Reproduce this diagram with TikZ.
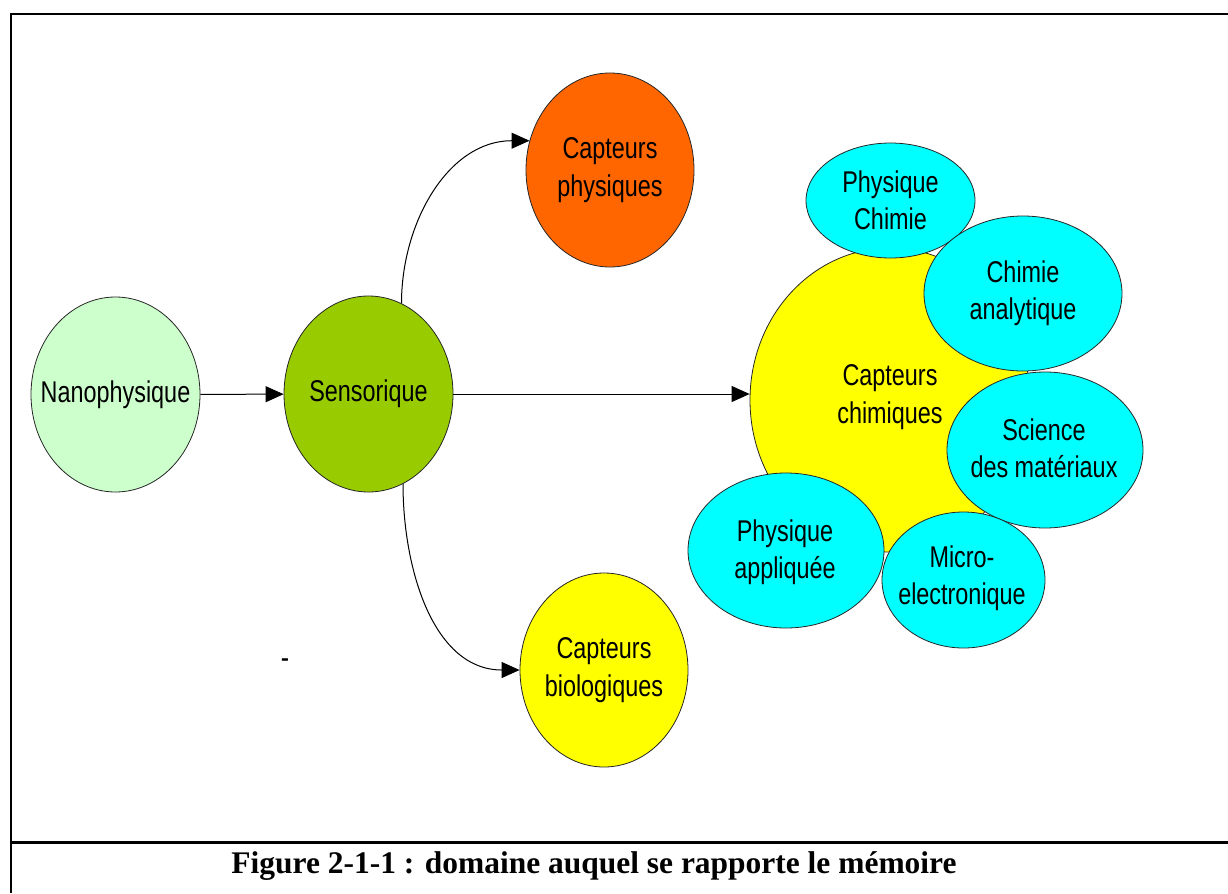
\documentclass[tikz,border=0pt]{standalone}
\usepackage{fontspec}
\setmainfont{Liberation Sans}[FakeStretch=0.78]
\newfontfamily\captionserif{Liberation Serif}
\usetikzlibrary{shapes.geometric,arrows.meta}

\definecolor{nanogreen}{HTML}{CCFFCC}
\definecolor{sensogreen}{HTML}{99CC00}
\definecolor{physorange}{HTML}{FF6600}
\definecolor{sensoryellow}{HTML}{FFFF00}
\definecolor{fieldcyan}{HTML}{00FFFF}

\begin{document}
\begin{tikzpicture}[x=0.75pt,y=-0.75pt,
  bubble/.style={ellipse,draw=black!85,line width=0.6pt,inner sep=0pt},
  lbl/.style={align=center,font=\fontsize{22.5}{28}\selectfont,text=black,inner sep=0pt},
  link/.style={line width=0.75pt,-{Triangle[length=13.5pt,width=12pt]}},
  rule/.style={line width=#1,black}
]
\useasboundingbox (0,0) rectangle (1228,893);

% frame of the figure and caption row
\draw[rule=2pt] (10,14) -- (1228,14);
\draw[rule=1.4pt] (11,13) -- (11,893);
\draw[rule=1.7pt] (11,842.5) -- (1228,842.5);

% main chain
\node[bubble,fill=nanogreen,minimum width=126.75pt,minimum height=146.25pt] (nano) at (115.5,394.5) {};
\node[lbl] (nano-t) at (nano) {Nanophysique};
\node[bubble,fill=sensogreen,minimum width=126.75pt,minimum height=147pt] (senso) at (368.5,394) {};
\node[lbl] (senso-t) at (senso) {Sensorique};
\node[bubble,fill=physorange,minimum width=126pt,minimum height=145.5pt] (phys) at (610,170) {};
\node[lbl] (phys-t) at (phys) {Capteurs\\physiques};
\node[bubble,fill=sensoryellow,minimum width=126pt,minimum height=145.5pt] (bio) at (604,670) {};
\node[lbl] (bio-t) at (bio) {Capteurs\\biologiques};

% chemical sensors and the related fields
\node[bubble,fill=sensoryellow,minimum width=210pt,minimum height=228pt] (chim) at (890,400) {};
\node[lbl] (chim-t) at (890,397) {Capteurs\\chimiques};
\node[bubble,fill=fieldcyan,minimum width=126.75pt,minimum height=86.25pt] (pc) at (890.5,200.5) {};
\node[lbl] (pc-t) at (pc) {Physique\\Chimie};
\node[bubble,fill=fieldcyan,minimum width=148.5pt,minimum height=116.25pt] (ca) at (1023,293.5) {};
\node[lbl] (ca-t) at (ca) {Chimie\\analytique};
\node[bubble,fill=fieldcyan,minimum width=147pt,minimum height=117pt] (sm) at (1045,450) {};
\node[lbl] (sm-t) at (1044,448) {Science\\des matériaux};
\node[bubble,fill=fieldcyan,minimum width=122.25pt,minimum height=102pt] (mi) at (963.5,580) {};
\node[lbl] (mi-t) at (962,578) {Micro-\\electronique};
\node[bubble,fill=fieldcyan,minimum width=147pt,minimum height=116.25pt] (pa) at (786,550.5) {};
\node[lbl] (pa-t) at (785,552) {Physique\\appliquée};

% stray mark
\node[font=\fontsize{24}{24}\selectfont,inner sep=0pt] (mark) at (285,664) {-};

% connectors
\draw[link] (nano) -- (senso);
\draw[link] (senso.east) -- (senso.east -| chim.west);
\draw[link] (senso.70) to[out=90,in=180] (phys.160);
\draw[link] (senso.-69) to[out=-90,in=180] (bio.180);

% caption
\node[font=\captionserif\bfseries\fontsize{23.6}{26}\selectfont,inner sep=0pt,anchor=base] (caption) at (594,873) {Figure 2-1-1 : domaine auquel se rapporte le mémoire};
\end{tikzpicture}
\end{document}
